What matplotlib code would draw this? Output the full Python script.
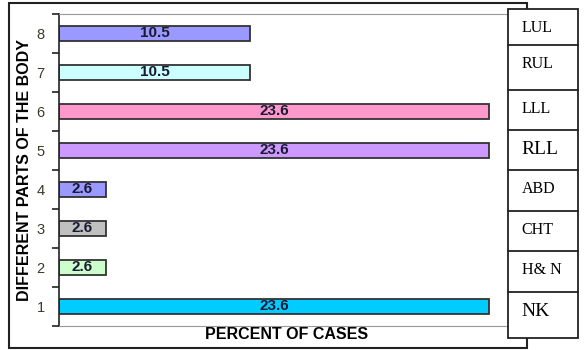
import matplotlib.pyplot as plt
from matplotlib.patches import Rectangle
from matplotlib.lines import Line2D

# body part index, percent of cases and bar colours
parts = [1, 2, 3, 4, 5, 6, 7, 8]
percent = [23.6, 2.6, 2.6, 2.6, 23.6, 23.6, 10.5, 10.5]
colors = ['#00ccff', '#ccffcc', '#c0c0c0', '#9999ff',
          '#cc99ff', '#ff99cc', '#ccffff', '#9999ff']

# key table on the right, top to bottom
key_labels = ['LUL', 'RUL', 'LLL', 'RLL', 'ABD', 'CHT', 'H& N', 'NK']
key_sizes = [11.5, 11.5, 11.5, 14, 11.5, 11.5, 11.5, 14]
key_edges = [9, 45, 90, 130, 170, 211, 251, 292, 338]  # row borders in px from top

W, H = 585, 350
fig = plt.figure(figsize=(W / 100, H / 100), dpi=100)

def px(x, y):
    return x / W, 1 - y / H

# outer chart frame
fig.patches.append(Rectangle(px(9, 348), 518 / W, 345 / H, transform=fig.transFigure,
                             fill=False, edgecolor='#222222', lw=1.5, zorder=0))

x0, y0 = px(58.7, 325.7)
x1, y1 = px(514.7, 14)
ax = fig.add_axes([x0, y0, x1 - x0, y1 - y0])
ax.barh(parts, percent, height=0.38, color=colors, edgecolor='#333333', linewidth=1.3)
for p, v in zip(parts, percent):
    ax.text(v / 2, p, f'{v}', ha='center', va='center', fontsize=11,
            fontweight='bold', color='#1a1a33', family='Liberation Sans')

ax.set_xlim(0, 25)
ax.set_ylim(0.5, 8.5)
ax.set_xticks([])
ax.set_yticks([p + 0.5 for p in parts[:-1]] + [0.5, 8.5])
ax.set_yticks(parts, minor=True)
ax.set_yticklabels([], minor=False)
ax.set_yticklabels([str(p) for p in parts], minor=True)
ax.tick_params(axis='y', which='major', length=5, width=1.2, color='#222222')
ax.tick_params(axis='y', which='minor', length=0, pad=10, labelsize=10.5,
               labelcolor='#3a3a2a')
for t in ax.get_yticklabels(minor=True):
    t.set_family('Liberation Sans')
ax.spines['left'].set_color('#222222')
ax.spines['left'].set_linewidth(1.2)
ax.spines['right'].set_visible(False)
ax.spines['top'].set_color('#999999')
ax.spines['bottom'].set_color('#999999')
ax.set_ylabel('DIFFERENT PARTS OF THE BODY', fontsize=11.5, fontweight='bold',
              family='Liberation Sans', labelpad=3.5)
ax.set_xlabel('PERCENT OF CASES', fontsize=11.5, fontweight='bold',
              family='Liberation Sans', labelpad=1)

# key table drawn over the right edge of the plot
tx0, tx1 = 507.7, 578
fig.patches.append(Rectangle(px(tx0, key_edges[-1]), (tx1 - tx0) / W,
                             (key_edges[-1] - key_edges[0]) / H,
                             transform=fig.transFigure, facecolor='white',
                             edgecolor='#222222', lw=1.3, zorder=5))
for e in key_edges[1:-1]:
    fig.lines.append(Line2D([tx0 / W, tx1 / W], [1 - e / H] * 2,
                            transform=fig.transFigure, color='#222222', lw=1.3, zorder=6))
for lab, size, top in zip(key_labels, key_sizes, key_edges[:-1]):
    fig.text((tx0 + 14) / W, 1 - (top + 19) / H, lab, ha='left', va='center',
             fontsize=size, family='Liberation Serif', zorder=7)

fig.savefig('out.png', dpi=100)
